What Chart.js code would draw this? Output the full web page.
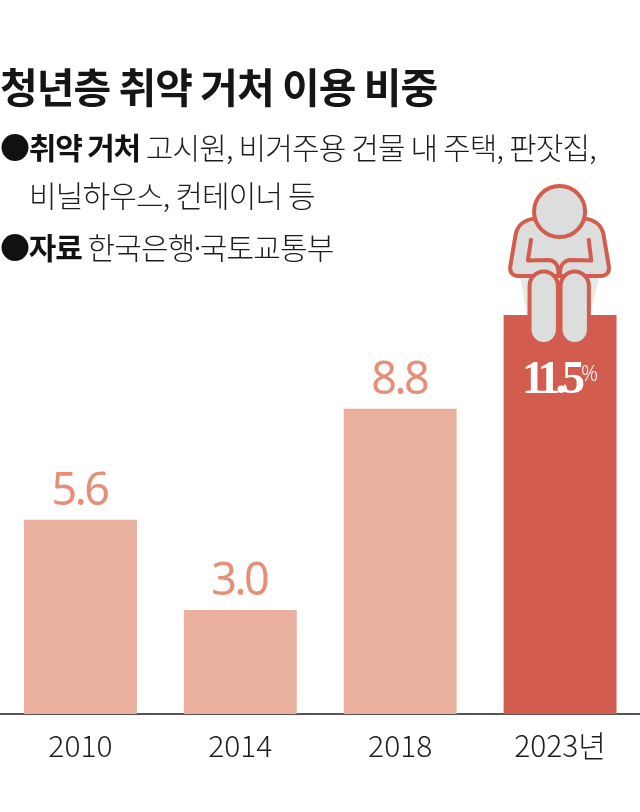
<!DOCTYPE html>
<html><head><meta charset="utf-8">
<script src="https://cdn.jsdelivr.net/npm/chart.js@4"></script>
<style>
html,body{margin:0;padding:0;background:#fff;width:640px;height:812px;overflow:hidden}
#wrap{position:relative;width:640px;height:812px}
canvas{position:absolute;left:0;top:0}
.t{position:absolute;white-space:nowrap;font-family:"Noto Sans CJK KR";color:#1d1d1d}
#title{left:0;top:57px;font-size:41px;font-weight:700;letter-spacing:-1px;line-height:56px;color:#151515}
.n{font-size:30px;font-weight:300;letter-spacing:-0.85px;line-height:40px}
.n b{font-weight:700;color:#111;letter-spacing:-1.2px}
.d{margin:0 -5px}
</style></head><body>
<div id="wrap">
<canvas id="c" width="640" height="812"></canvas>
<div class="t" id="title">청년층 취약 거처 이용 비중</div>
<div class="t n" style="left:0;top:126px"><b>●취약 거처</b> 고시원, 비거주용 건물 내 주택, 판잣집,</div>
<div class="t n" style="left:29px;top:174px">비닐하우스, 컨테이너 등</div>
<div class="t n" style="left:0;top:226px"><b>●자료</b> 한국은행<span class="d">·</span>국토교통부</div>
</div>
<script>
const categories = ['2010','2014','2018','2023년'];
const shares = [5.6,3.0,8.8,11.5];
const barColors = ['#e9b09e','#e9b09e','#e9b09e','#d25c4d'];
const valueLabels = ['5.6','3.0','8.8','11.5'];

const labelPlugin = {
  id:'labels',
  afterDatasetsDraw(chart){
    const {ctx} = chart;
    const bars = chart.getDatasetMeta(0).data;
    ctx.save();
    ctx.textAlign='center'; ctx.textBaseline='alphabetic';
    bars.forEach((b,i)=>{
      if(i<3){
        ctx.fillStyle='#e58f79';
        ctx.font='400 45px "Noto Sans", sans-serif';
        ctx.letterSpacing='-2.5px';
        ctx.fillText(valueLabels[i], b.x-1, b.y-15);
      }
    });
    ctx.restore();
    // figure on the last bar
    const last = bars[3];
    const dx = last.x-560.5, dy = last.y-315;
    ctx.save();
    ctx.translate(dx,dy);
    const P=(x,y)=>[490+x/3,170+y/3];
    const path=(pts)=>{ctx.beginPath();pts.forEach((p,i)=>{const q=P(p[0],p[1]);i?ctx.lineTo(q[0],q[1]):ctx.moveTo(q[0],q[1]);});};
    ctx.fillStyle='#e6e9e9';
    ctx.strokeStyle='#d25c4d';
    ctx.lineWidth=4; ctx.lineJoin='round'; ctx.lineCap='butt';
    // back
    path([[92,320],[112,436],[300,436],[330,320]]); ctx.fill();
    ctx.fillStyle='#dcdedd';
    // torso
    ctx.beginPath();
    ctx.moveTo(...P(135,146));
    ctx.bezierCurveTo(...P(100,150),...P(82,170),...P(78,195));
    ctx.lineTo(...P(62,290));
    ctx.bezierCurveTo(...P(60,308),...P(70,318),...P(85,318));
    ctx.lineTo(...P(335,318));
    ctx.bezierCurveTo(...P(350,318),...P(360,308),...P(358,290));
    ctx.lineTo(...P(342,195));
    ctx.bezierCurveTo(...P(338,170),...P(320,150),...P(285,146));
    ctx.closePath(); ctx.fill(); ctx.stroke();
    // legs
    const leg=(x0,x1)=>{
      const a=P(x0,305), b=P(x1,522), r=(b[0]-a[0])/2;
      ctx.beginPath(); ctx.roundRect(a[0],a[1],b[0]-a[0],b[1]-a[1],r);
      ctx.fill(); ctx.stroke();
    };
    leg(120,205); leg(213,298);
    // inner arms
    ctx.beginPath();
    ctx.moveTo(...P(125,205)); ctx.lineTo(...P(115,272)); ctx.lineTo(...P(175,270));
    ctx.bezierCurveTo(...P(195,270),...P(207,285),...P(207,312)); ctx.stroke();
    ctx.beginPath();
    ctx.moveTo(...P(297,205)); ctx.lineTo(...P(305,272)); ctx.lineTo(...P(245,270));
    ctx.bezierCurveTo(...P(225,270),...P(211,285),...P(211,312)); ctx.stroke();
    // head
    const h=P(210,125);
    ctx.beginPath(); ctx.arc(h[0],h[1],25.5,0,Math.PI*2); ctx.fill(); ctx.stroke();
    ctx.restore();
    // last value
    ctx.save();
    ctx.fillStyle='#ffffff';
    ctx.textBaseline='alphabetic';
    ctx.textAlign='left';
    ctx.font='700 46px "Liberation Serif", serif';
    ctx.letterSpacing='-5px';
    ctx.fillText(valueLabels[3], 522, 393);
    ctx.letterSpacing='0px';
    ctx.font='300 21px "Noto Sans", sans-serif';
    ctx.fillText('%', 581, 381);
    ctx.restore();
  }
};

new Chart(document.getElementById('c'),{
  type:'bar',
  data:{labels:categories,datasets:[{data:shares,backgroundColor:barColors,borderWidth:0,barPercentage:1,categoryPercentage:113/160}]},
  plugins:[labelPlugin],
  options:{
    responsive:false,animation:false,
    layout:{padding:{left:0.5,right:-0.5,top:0,bottom:0}},
    plugins:{legend:{display:false},tooltip:{enabled:false},title:{display:false}},
    scales:{
      x:{
        grid:{display:false,drawTicks:false},
        border:{display:true,color:'#555',width:2},
        ticks:{color:'#1d1d1d',padding:14,maxRotation:0,autoSkip:false,font:{family:'"Noto Sans CJK KR"',size:30,weight:'300'}},
        afterFit(s){s.height=812-714;}
      },
      y:{display:false,min:0,max:714/34.7}
    }
  }
});
</script>
</body></html>
